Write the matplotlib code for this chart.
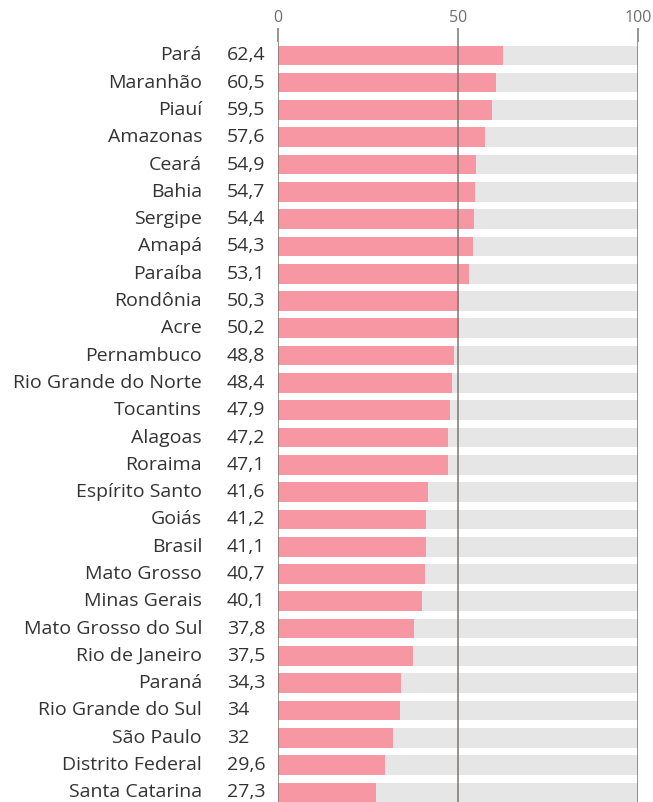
import matplotlib.pyplot as plt

# values per state (percent)
states = ['Pará', 'Maranhão', 'Piauí', 'Amazonas', 'Ceará', 'Bahia', 'Sergipe',
          'Amapá', 'Paraíba', 'Rondônia', 'Acre', 'Pernambuco',
          'Rio Grande do Norte', 'Tocantins', 'Alagoas', 'Roraima',
          'Espírito Santo', 'Goiás', 'Brasil', 'Mato Grosso', 'Minas Gerais',
          'Mato Grosso do Sul', 'Rio de Janeiro', 'Paraná', 'Rio Grande do Sul',
          'São Paulo', 'Distrito Federal', 'Santa Catarina']
values = [62.4, 60.5, 59.5, 57.6, 54.9, 54.7, 54.4, 54.3, 53.1, 50.3, 50.2,
          48.8, 48.4, 47.9, 47.2, 47.1, 41.6, 41.2, 41.1, 40.7, 40.1, 37.8,
          37.5, 34.3, 34, 32, 29.6, 27.3]
ticks = [0, 50, 100]

plt.rcParams['font.family'] = ['Open Sans', 'DejaVu Sans']

fig = plt.figure(figsize=(6.53, 8.02), dpi=100)
ax = fig.add_axes([278 / 653, -0.005, 360 / 653, 0.953])

y = list(range(len(states)))
ax.barh(y, [100] * len(states), height=0.72, color='#e6e6e6', zorder=1)
ax.barh(y, values, height=0.72, color='#f797a3', zorder=2)

for x in ticks:
    ax.axvline(x, color='#7d7770', lw=1.1, zorder=3)

ax.set_xlim(0, 100)
ax.set_ylim(len(states) - 0.5, -0.5)
ax.xaxis.tick_top()
ax.set_xticks(ticks)
ax.set_xticklabels([str(t) for t in ticks])
ax.tick_params(axis='x', length=10, width=1.1, color='#7d7770',
               labelcolor='#6e6e6e', labelsize=11.5, pad=1)
ax.set_yticks([])
for s in ax.spines.values():
    s.set_visible(False)

# px -> data units (360 px span 100 units)
for i, (name, v) in enumerate(zip(states, values)):
    txt = f'{v:g}'.replace('.', ',')
    ax.text(-76 / 3.6, i, name, ha='right', va='center', fontsize=14,
            color='#333333', clip_on=False)
    ax.text(-51 / 3.6, i, txt, ha='left', va='center', fontsize=14,
            color='#333333', clip_on=False)

fig.savefig('out.png', dpi=100)
